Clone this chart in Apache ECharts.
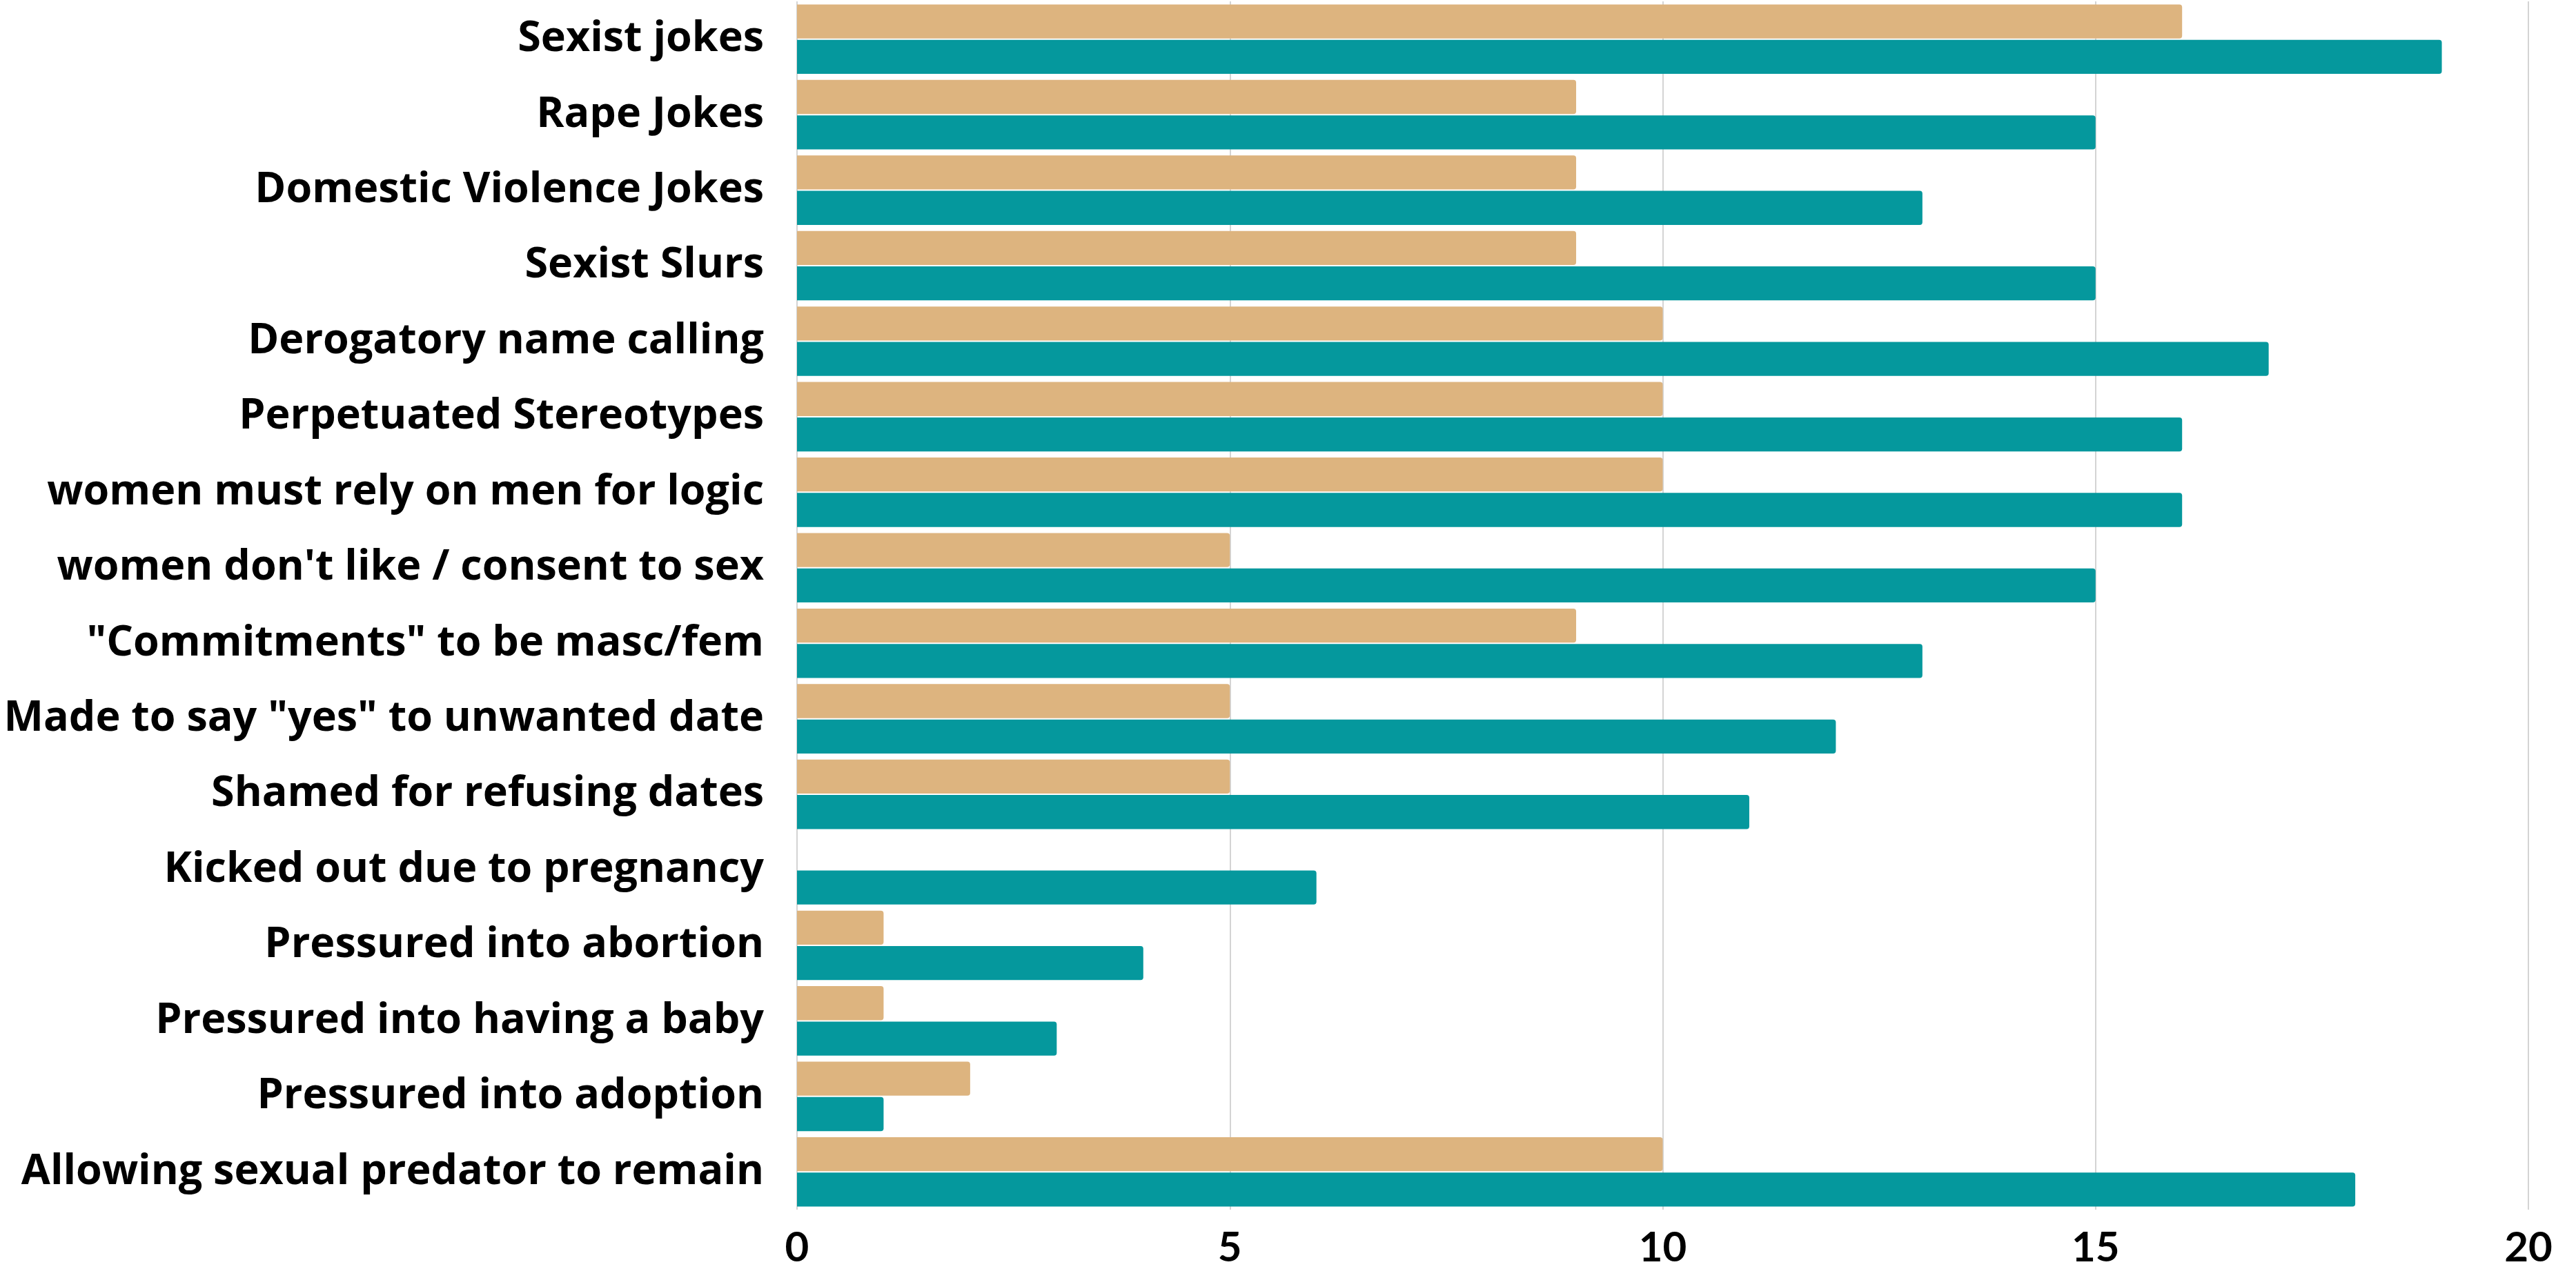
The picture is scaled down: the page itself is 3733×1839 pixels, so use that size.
<!DOCTYPE html>
<html><head><meta charset="utf-8">
<script src="https://cdn.jsdelivr.net/npm/echarts@6/dist/echarts.min.js"></script>
<style>html,body{margin:0;padding:0;background:#fff}#c{width:3733px;height:1839px}</style>
</head><body><div id="c"></div>
<script>
const categories = [
  "Sexist jokes","Rape Jokes","Domestic Violence Jokes","Sexist Slurs","Derogatory name calling",
  "Perpetuated Stereotypes","women must rely on men for logic","women don't like / consent to sex",
  "\"Commitments\" to be masc/fem","Made to say \"yes\" to unwanted date","Shamed for refusing dates",
  "Kicked out due to pregnancy","Pressured into abortion","Pressured into having a baby",
  "Pressured into adoption","Allowing sexual predator to remain"
];
const seriesTan = [16,9,9,9,10,10,10,5,9,5,5,0,1,1,2,10];
const seriesTeal = [19,15,13,15,17,16,16,15,13,12,11,6,4,3,1,18];
const xTicks = [0,5,10,15,20];

const chart = echarts.init(document.getElementById('c'), null, {renderer:'canvas'});
chart.setOption({
  animation:false,
  grid:{left:1155, right:69, top:2, bottom:86, containLabel:false},
  xAxis:{type:'value', min:xTicks[0], max:xTicks[xTicks.length-1], interval:5,
    axisLine:{show:false}, axisTick:{show:false},
    splitLine:{show:true, lineStyle:{color:'#d4d4d4', width:2}},
    axisLabel:{color:'#000', fontFamily:'Lato, sans-serif', fontWeight:'bold', fontSize:60, margin:26}},
  yAxis:{type:'category', data:categories, inverse:true,
    axisLine:{show:false}, axisTick:{show:false},
    axisLabel:{color:'#000', fontFamily:'"Open Sans", sans-serif', fontWeight:'bold', fontSize:61, margin:48}},
  series:[
    {type:'bar', data:seriesTan, barCategoryGap:'8%', barGap:'4%',
      itemStyle:{color:'#DDB47F', borderRadius:[0,4,4,0]}},
    {type:'bar', data:seriesTeal, barCategoryGap:'8%', barGap:'4%',
      itemStyle:{color:'#05989D', borderRadius:[0,4,4,0]}}
  ]
});
</script></body></html>
